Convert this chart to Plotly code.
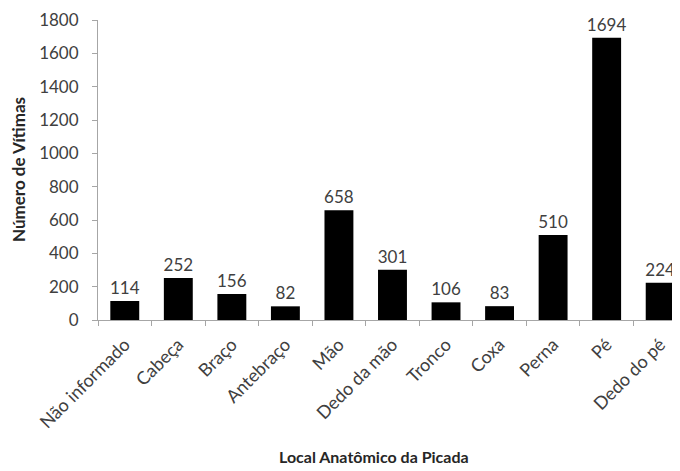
import plotly.graph_objects as go

locais = ["Não informado", "Cabeça", "Braço", "Antebraço", "Mão", "Dedo da mão",
          "Tronco", "Coxa", "Perna", "Pé", "Dedo do pé"]
vitimas = [114, 252, 156, 82, 658, 301, 106, 83, 510, 1694, 224]
y_ticks = [0, 200, 400, 600, 800, 1000, 1200, 1400, 1600, 1800]

FONT = "Lato, Open Sans, sans-serif"
TXT = "#404040"
AXIS = "#a6a6a6"

fig = go.Figure(go.Bar(
    x=locais, y=vitimas,
    marker=dict(color="black", line=dict(width=0)),
    text=vitimas, textposition="outside", cliponaxis=False,
    constraintext="none",
    textfont=dict(family=FONT, size=17, color=TXT),
    width=0.54,
))

# page body has an 8px margin, so the figure is 8px smaller on each axis
fig.update_layout(
    width=672, height=463,
    paper_bgcolor="white", plot_bgcolor="white",
    margin=dict(l=90, r=0, t=12, b=151),
    showlegend=False,
    font=dict(family=FONT, size=14, color=TXT),
    annotations=[
        dict(text="<b>Local Anatômico da Picada</b>", xref="paper", yref="paper",
             x=(374 - 98) / 582, y=-137 / 300, xanchor="center", yanchor="middle",
             showarrow=False, font=dict(family=FONT, size=16, color="#262626")),
        dict(text="<b>Número de Vítimas</b>", xref="paper", yref="paper",
             x=-80 / 582, y=0.5, xanchor="center", yanchor="middle", textangle=-90,
             showarrow=False, font=dict(family=FONT, size=17, color="#262626")),
    ],
)
fig.update_xaxes(
    range=[-0.5, 10.37], tickangle=-45, showline=True, linecolor=AXIS,
    ticks="outside", tickson="boundaries", ticklen=5, tickcolor=AXIS,
    showgrid=False, automargin=False, ticklabelstandoff=6,
    tickfont=dict(family=FONT, size=18, color=TXT),
)
fig.update_yaxes(
    range=[0, 1800], tickvals=y_ticks, showline=True, linecolor=AXIS,
    ticks="outside", ticklen=5, tickcolor=AXIS, showgrid=False, zeroline=False,
    automargin=False, ticklabelstandoff=10,
    tickfont=dict(family=FONT, size=17, color=TXT),
)

fig.write_html("out.html")
